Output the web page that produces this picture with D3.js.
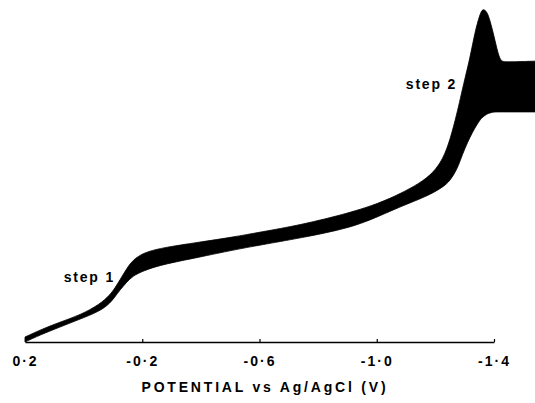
<!DOCTYPE html>
<html>
<head>
<meta charset="utf-8">
<script src="https://cdn.jsdelivr.net/npm/d3@7"></script>
<style>
  body { margin: 0; background: #fff; }
  svg { display: block; }
  text { font-family: "Liberation Sans", Arial, sans-serif; font-weight: bold; fill: #000; }
</style>
</head>
<body>
<div id="chart"></div>
<script>
// potential (V vs Ag/AgCl)
const potential = [0.200, 0.149, 0.081, 0.012, -0.056, -0.090, -0.107, -0.124, -0.148, -0.168,
  -0.203, -0.261, -0.397, -0.510, -0.602, -0.738, -0.909, -1.011, -1.079, -1.148,
  -1.192, -1.226, -1.250, -1.274, -1.284, -1.301, -1.318, -1.335, -1.352, -1.362,
  -1.376, -1.386, -1.400, -1.414, -1.424, -1.438, -1.540];
// current, arbitrary units: top and bottom of the oscillation envelope
const currentHigh = [0.15, 0.36, 0.60, 0.81, 1.14, 1.42, 1.63, 1.87, 2.23, 2.47,
  2.68, 2.83, 3.01, 3.16, 3.31, 3.52, 3.89, 4.19, 4.46, 4.79,
  5.09, 5.51, 6.08, 6.90, 7.29, 7.95, 8.55, 9.34, 9.88, 10.05,
  9.95, 9.70, 9.22, 8.67, 8.46, 8.43, 8.46];
const currentLow = [0.00, 0.21, 0.45, 0.69, 0.93, 1.17, 1.36, 1.57, 1.81, 1.99,
  2.14, 2.32, 2.56, 2.77, 2.92, 3.13, 3.43, 3.80, 4.07, 4.31,
  4.49, 4.67, 4.85, 5.21, 5.45, 5.84, 6.17, 6.45, 6.69, 6.78,
  6.87, 6.90, 6.93, 6.93, 6.93, 6.93, 6.93];
const tickValues = [0.2, -0.2, -0.6, -1.0, -1.4];
const stepLabels = [
  { text: "step 1", v: -0.107, i: 1.81 },
  { text: "step 2", v: -1.274, i: 7.62 }
];

const width = 535, height = 403;

const x = d3.scaleLinear().domain([0.2, -1.4]).range([25, 494]);
const y = d3.scaleLinear().domain([0, 10]).range([342, 10]);

const svg = d3.select('#chart').append('svg')
  .attr('width', width)
  .attr('height', height);

const rows = potential.map((v, k) => ({ v, hi: currentHigh[k], lo: currentLow[k] }));

// the filled band
const area = d3.area()
  .x(d => x(d.v))
  .y0(d => y(d.lo))
  .y1(d => y(d.hi))
  .curve(d3.curveBasis);

svg.append('path')
  .datum(rows)
  .attr('d', area)
  .attr('fill', '#000')
  .attr('stroke', '#000')
  .attr('stroke-width', 0.8);

// x axis, ticks pointing up
const axis = d3.axisBottom(x)
  .tickValues(tickValues)
  .tickSizeInner(-3)
  .tickSizeOuter(0)
  .tickPadding(14)
  .tickFormat(d => d.toFixed(1).replace('.', '\u00b7'));

const gx = svg.append('g')
  .attr('transform', `translate(0,${y(0)})`)
  .call(axis);

gx.select('.domain').attr('stroke-width', 1.5);
gx.selectAll('.tick line').attr('stroke-width', 1.2);
gx.selectAll('.tick text')
  .attr('font-size', 14)
  .attr('font-family', '"Liberation Sans", Arial, sans-serif')
  .attr('font-weight', 'bold')
  .attr('letter-spacing', '2px');

svg.append('text')
  .attr('x', 265)
  .attr('y', 392)
  .attr('text-anchor', 'middle')
  .attr('font-size', 14)
  .attr('letter-spacing', '2.8px')
  .text('POTENTIAL vs Ag/AgCl (V)');

svg.selectAll('.step')
  .data(stepLabels)
  .enter().append('text')
  .attr('class', 'step')
  .attr('x', d => x(d.v))
  .attr('y', d => y(d.i))
  .attr('text-anchor', 'end')
  .attr('font-size', 14)
  .attr('letter-spacing', '1.8px')
  .text(d => d.text);
</script>
</body>
</html>
